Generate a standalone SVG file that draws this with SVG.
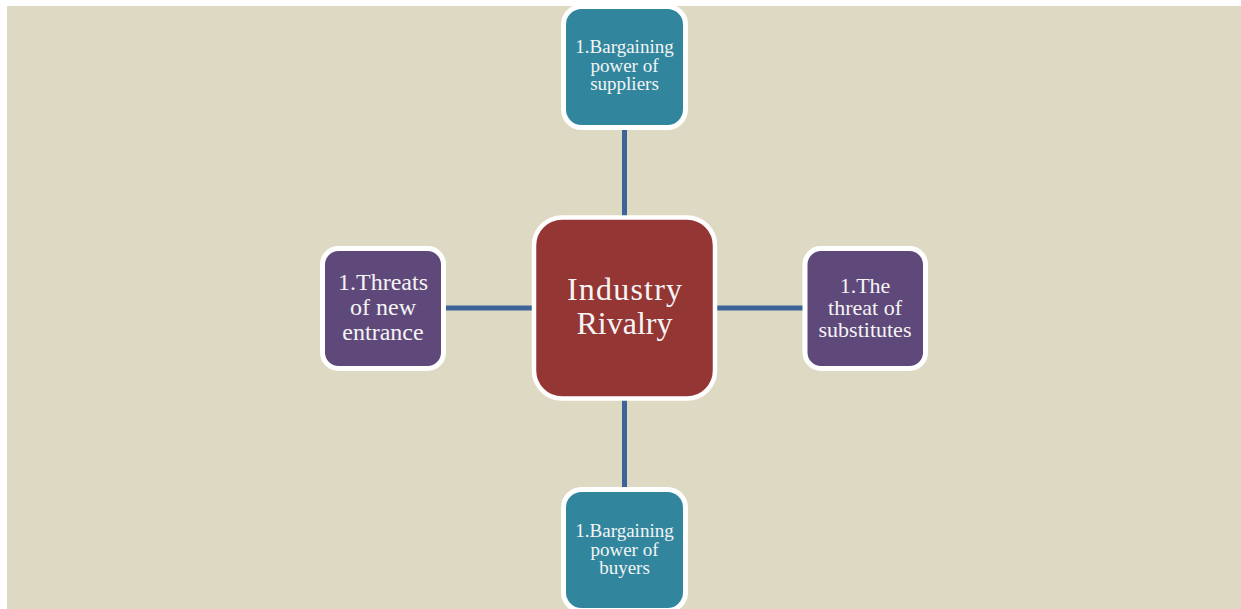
<svg xmlns="http://www.w3.org/2000/svg" width="1241" height="609" viewBox="0 0 1241 609">
  <style>
    .node { stroke: #ffffff; }
    .teal { fill: #31869e; stroke-width: 5; }
    .purple { fill: #5f497a; stroke-width: 5; }
    .red { fill: #943634; stroke-width: 4.5; }
    .link { stroke: #3d6499; stroke-width: 5; fill: none; }
    text { font-family: "Liberation Serif", "Times New Roman", serif; fill: #f4f4f4; text-anchor: middle; }
    .s19 { font-size: 19px; }
    .s22 { font-size: 22px; }
    .s24 { font-size: 24px; }
    .s32 { font-size: 32px; }
  </style>

  <!-- page background -->
  <rect x="0" y="0" width="1241" height="609" fill="#ffffff"/>
  <rect x="7" y="6" width="1234" height="603" fill="#ded9c3"/>

  <!-- connectors from the centre to each force -->
  <g id="connectors">
    <line class="link" x1="624.5" y1="128" x2="624.5" y2="217"/>
    <line class="link" x1="624.5" y1="399" x2="624.5" y2="489"/>
    <line class="link" x1="444" y1="308" x2="534" y2="308"/>
    <line class="link" x1="715" y1="308" x2="805" y2="308"/>
  </g>

  <g id="suppliers">
    <rect class="node teal" x="563.5" y="6.5" width="122" height="121" rx="18"/>
    <text class="s19" x="624.5" y="53">1.Bargaining</text>
    <text class="s19" x="624.5" y="71.5">power of</text>
    <text class="s19" x="624.5" y="90">suppliers</text>
  </g>

  <g id="rivalry">
    <rect class="node red" x="534" y="217.5" width="181" height="181" rx="28"/>
    <text class="s32" x="624.5" y="300" textLength="115" lengthAdjust="spacing">Industry</text>
    <text class="s32" x="624.5" y="334">Rivalry</text>
  </g>

  <g id="new-entrants">
    <rect class="node purple" x="322.5" y="248.5" width="121" height="120" rx="16"/>
    <text class="s24" x="383" y="290">1.Threats</text>
    <text class="s24" x="383" y="315">of new</text>
    <text class="s24" x="383" y="340">entrance</text>
  </g>

  <g id="substitutes">
    <rect class="node purple" x="805" y="248.5" width="120.5" height="120" rx="16"/>
    <text class="s22" x="865" y="293">1.The</text>
    <text class="s22" x="865" y="315">threat of</text>
    <text class="s22" x="865" y="337">substitutes</text>
  </g>

  <g id="buyers">
    <rect class="node teal" x="563.5" y="489.5" width="122" height="121" rx="18"/>
    <text class="s19" x="624.5" y="537">1.Bargaining</text>
    <text class="s19" x="624.5" y="555.5">power of</text>
    <text class="s19" x="624.5" y="574">buyers</text>
  </g>
</svg>
